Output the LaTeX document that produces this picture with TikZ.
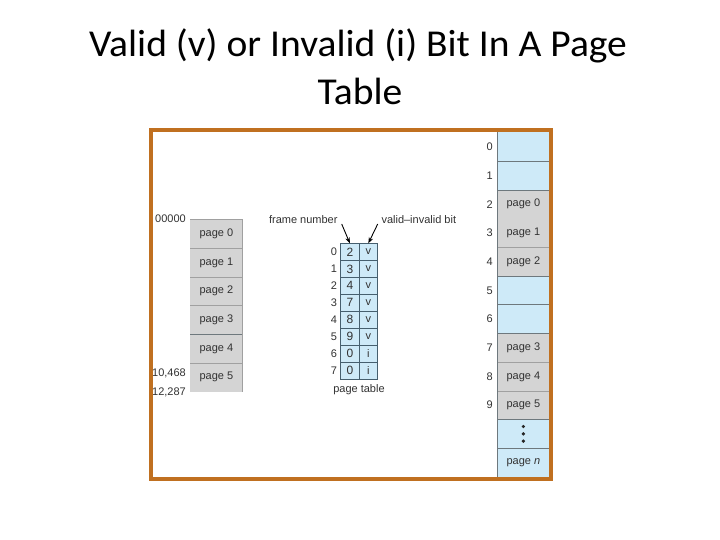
\documentclass[tikz,border=0pt]{standalone}
\usepackage{fontspec}
\setmainfont{Carlito}
\newfontfamily\hv{Liberation Sans}
\usetikzlibrary{arrows.meta}
\definecolor{frameor}{RGB}{192,112,32}
\definecolor{cellblue}{RGB}{206,234,248}
\definecolor{cellgray}{RGB}{212,212,212}
\definecolor{txt}{RGB}{50,50,50}
\definecolor{sepgray}{RGB}{160,160,160}
\definecolor{sepdark}{RGB}{110,120,125}
\definecolor{ptline}{RGB}{70,95,110}
\begin{document}
\begin{tikzpicture}[x=1pt,y=-1pt,
  titlefont/.style={font=\fontsize{38}{46}\selectfont, inner sep=0pt, anchor=base, xscale=1.04},
  lbl/.style={font=\hv\fontsize{11}{12}\selectfont, text=txt, inner sep=0pt},
  memcell/.style={minimum width=52.3pt, minimum height=28.7pt, inner sep=0pt, anchor=north west, font=\hv\fontsize{11}{12}\selectfont, text=txt},
  logcell/.style={minimum width=52.3pt, minimum height=28.7pt, inner sep=0pt, anchor=north west, fill=cellgray, font=\hv\fontsize{11}{12}\selectfont, text=txt},
  ptcell/.style={minimum width=18.5pt, minimum height=16.9pt, inner sep=0pt, anchor=north west, fill=cellblue, draw=ptline, line width=0.6pt, font=\hv\fontsize{12}{13}\selectfont, text=txt},
  ptarrow/.style={-{Stealth[length=6pt,width=4.5pt]}, line width=0.9pt, black}
]
\useasboundingbox (0,0) rectangle (720,540);
\fill[white] (0,0) rectangle (720,540);

% title
\node[titlefont] (t1) at (358,56.7) {Valid (v) or Invalid (i) Bit In A Page};
\node[titlefont] (t2) at (360,105) {Table};

% physical memory column
\foreach \i/\c/\t in {0/cellblue/{},1/cellblue/{},2/cellgray/{page 0},3/cellgray/{page 1},4/cellgray/{page 2},5/cellblue/{},6/cellblue/{},7/cellgray/{page 3},8/cellgray/{page 4},9/cellgray/{page 5},10/cellblue/{},11/cellblue/{page \textit{n}}}{
  \node[memcell, fill=\c] (m\i) at (497,132.3+28.7*\i) {\t};
}
\foreach \i in {0,...,9}{
  \node[lbl, anchor=east] (f\i) at ([xshift=-4pt]m\i.west) {\i};
}
% separators
\foreach \i in {7,8}{ \draw[sepgray, line width=0.7pt] (m\i.south west) -- (m\i.south east); }
\draw[sepgray, line width=0.7pt] (m3.south west) -- (m3.south east);
\foreach \i in {0,1,4,5,6,9,10}{ \draw[sepdark, line width=0.9pt] (m\i.south west) -- (m\i.south east); }
\draw[sepdark, line width=0.7pt] (m0.north west) -- (m11.south west);
% dots
\foreach \k/\dy in {a/-7.3,b/0,c/7.3}{
  \fill[black!85] ([yshift=\dy]m10.center) circle (1.8pt);
}

% logical memory
\foreach \i in {0,...,5}{
  \node[logcell] (l\i) at (190,219.3+28.7*\i) {page \i};
}
\foreach \i in {0,1,2,4}{ \draw[sepgray, line width=0.7pt] (l\i.south west) -- (l\i.south east); }
\draw[sepdark, line width=0.9pt] (l3.south west) -- (l3.south east);
\draw[sepgray, line width=0.8pt] (l0.north west) -- (l0.north east) -- (l5.south east);
\node[lbl, anchor=north east] (a0) at (186,214.5) {00000};
\node[lbl, anchor=east] (a1) at (186,373.3) {10,468};
\node[lbl, anchor=east] (a2) at (186,392.3) {12,287};

% page table
\foreach \i/\f/\b in {0/2/v,1/3/v,2/4/v,3/7/v,4/8/v,5/9/v,6/0/i,7/0/i}{
  \node[ptcell] (pf\i) at (340.3,243.3+16.9*\i) {\f};
  \node[ptcell, font=\hv\fontsize{11}{12}\selectfont] (pb\i) at (358.8,243.3+16.9*\i) {\ifx i\b\textcolor{black!45}{\b}\else\b\fi};
  \node[lbl, anchor=east] (pi\i) at ([xshift=-3pt]pf\i.west) {\i};
}
\node[lbl, anchor=north] (ptl) at (359,384) {page table};
\node[lbl, anchor=base east] (fn) at (337.7,224) {frame number};
\node[lbl, anchor=base west] (vib) at (381.3,224) {valid–invalid bit};
\coordinate (fns) at (341.7,224);
\coordinate (vbs) at (377.7,224);
\draw[ptarrow] (fns) -- (pf0.north);
\draw[ptarrow] (vbs) -- (pb0.north);

% orange frame
\draw[frameor, line width=4pt] (150.5,130) rectangle (551,479);
\end{tikzpicture}
\end{document}
